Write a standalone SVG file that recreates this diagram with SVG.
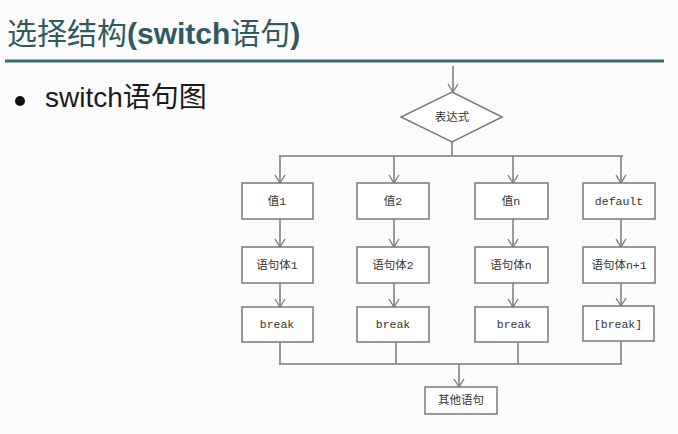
<svg xmlns="http://www.w3.org/2000/svg" width="678" height="434" viewBox="0 0 678 434">
<style>
.bg{fill:#fbfbfb}
.box{fill:#ffffff;stroke:#7a7a7a;stroke-width:1.5}
.ln{fill:none;stroke:#7a7a7a;stroke-width:1.5}
.t{font-family:"Liberation Mono","Noto Sans CJK SC",monospace;font-size:11.5px;fill:#333;text-anchor:middle;dominant-baseline:central}
.title{font-family:"Liberation Sans","Noto Sans CJK SC",sans-serif;font-size:30px;fill:#2f5a60}
.bul{font-family:"Liberation Sans","Noto Sans CJK SC",sans-serif;font-size:28px;fill:#1a1a1a}
</style>
<defs>
<marker id="arr" viewBox="0 0 12 12" refX="11" refY="6" markerWidth="12" markerHeight="12" markerUnits="userSpaceOnUse" orient="auto">
<path d="M3,1 L11,6 L3,11" fill="none" stroke="#7a7a7a" stroke-width="1.3"/>
</marker>
</defs>
<rect class="bg" x="0" y="0" width="678" height="434"/>
<g id="header">
<text class="title" x="7" y="44">选择结构<tspan font-weight="bold">(switch</tspan>语句<tspan font-weight="bold">)</tspan></text>
<rect x="5" y="59.5" width="659" height="3" fill="#3a6a70"/>
<circle cx="20" cy="101" r="5" fill="#111"/>
<text class="bul" x="45" y="107">switch语句图</text>
</g>
<g id="connectors">
<line class="ln" x1="453" y1="66" x2="453" y2="92" marker-end="url(#arr)"/>
<polyline class="ln" points="452,142 452,156"/>
<line class="ln" x1="279" y1="156" x2="623" y2="156"/>
<line class="ln" x1="280" y1="156" x2="280" y2="183" marker-end="url(#arr)"/>
<line class="ln" x1="394" y1="156" x2="394" y2="183" marker-end="url(#arr)"/>
<line class="ln" x1="513" y1="156" x2="513" y2="183" marker-end="url(#arr)"/>
<line class="ln" x1="621" y1="156" x2="621" y2="183" marker-end="url(#arr)"/>
<line class="ln" x1="280" y1="219" x2="280" y2="247" marker-end="url(#arr)"/>
<line class="ln" x1="394" y1="219" x2="394" y2="247" marker-end="url(#arr)"/>
<line class="ln" x1="513" y1="219" x2="513" y2="247" marker-end="url(#arr)"/>
<line class="ln" x1="621" y1="219" x2="621" y2="247" marker-end="url(#arr)"/>
<line class="ln" x1="280" y1="283" x2="280" y2="307" marker-end="url(#arr)"/>
<line class="ln" x1="394" y1="283" x2="394" y2="307" marker-end="url(#arr)"/>
<line class="ln" x1="513" y1="283" x2="513" y2="307" marker-end="url(#arr)"/>
<line class="ln" x1="621" y1="283" x2="621" y2="306" marker-end="url(#arr)"/>
<line class="ln" x1="280" y1="342" x2="280" y2="364"/>
<line class="ln" x1="396" y1="342" x2="396" y2="364"/>
<line class="ln" x1="518" y1="342" x2="518" y2="364"/>
<line class="ln" x1="621" y1="341" x2="621" y2="364"/>
<line class="ln" x1="279" y1="364" x2="622" y2="364"/>
<line class="ln" x1="459" y1="364" x2="459" y2="387" marker-end="url(#arr)"/>
</g>
<g id="n-expr"><polygon class="box" points="452,92 502,117 452,142 401,117"/><text class="t" x="452" y="117">表达式</text></g>
<g id="n-v1"><rect class="box" x="242" y="183" width="71" height="36"/><text class="t" x="277" y="201">值1</text></g>
<g id="n-v2"><rect class="box" x="357" y="183" width="72" height="36"/><text class="t" x="393" y="201">值2</text></g>
<g id="n-vn"><rect class="box" x="475" y="183" width="73" height="36"/><text class="t" x="511" y="201">值n</text></g>
<g id="n-def"><rect class="box" x="583" y="183" width="72" height="36"/><text class="t" x="619" y="201">default</text></g>
<g id="n-s1"><rect class="box" x="242" y="247" width="71" height="36"/><text class="t" x="277" y="265">语句体1</text></g>
<g id="n-s2"><rect class="box" x="357" y="247" width="72" height="36"/><text class="t" x="393" y="265">语句体2</text></g>
<g id="n-sn"><rect class="box" x="475" y="247" width="73" height="36"/><text class="t" x="511" y="265">语句体n</text></g>
<g id="n-sn1"><rect class="box" x="583" y="247" width="72" height="36"/><text class="t" x="619" y="265">语句体n+1</text></g>
<g id="n-b1"><rect class="box" x="242" y="307" width="71" height="35"/><text class="t" x="277" y="324">break</text></g>
<g id="n-b2"><rect class="box" x="357" y="307" width="72" height="35"/><text class="t" x="393" y="324">break</text></g>
<g id="n-bn"><rect class="box" x="475" y="307" width="73" height="35"/><text class="t" x="514" y="324">break</text></g>
<g id="n-bd"><rect class="box" x="583" y="306" width="71" height="35"/><text class="t" x="618" y="324">[break]</text></g>
<g id="n-other"><rect class="box" x="425" y="387" width="72" height="27"/><text class="t" x="461" y="400">其他语句</text></g>
</svg>
